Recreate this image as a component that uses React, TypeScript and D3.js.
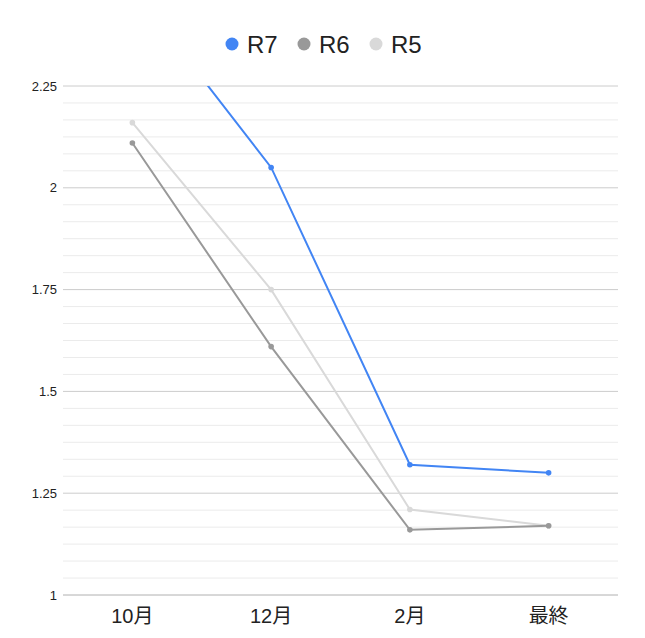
import React from "react";
import * as d3 from "d3";

const categories = ["10月", "12月", "2月", "最終"];
const seriesNames = ["R7", "R6", "R5"];
const r7Values = [2.49, 2.05, 1.32, 1.3];
const r6Values = [2.11, 1.61, 1.16, 1.17];
const r5Values = [2.16, 1.75, 1.21, 1.17];
const yTicks = [1, 1.25, 1.5, 1.75, 2, 2.25];
const colors = ["#4285f4", "#999999", "#d9d9d9"];

const W = 645;
const H = 638;
const left = 63;
const right = 618;
const top = 86;
const bottom = 595;

export default function App() {
  const x = d3.scaleBand<string>().domain(categories).range([left, right]);
  const y = d3.scaleLinear().domain([1, 2.25]).range([bottom, top]);
  const minor: number[] = [];
  for (let k = 0; k < yTicks.length - 1; k++) {
    for (let j = 1; j < 6; j++) minor.push(yTicks[k] + ((yTicks[k + 1] - yTicks[k]) * j) / 6);
  }
  const series = [r7Values, r6Values, r5Values];
  const line = d3
    .line<number>()
    .x((_, i) => (x(categories[i]) as number) + x.bandwidth() / 2)
    .y((d) => y(d));
  const font = "'Liberation Sans', Arial, 'Noto Sans CJK JP', sans-serif";
  const legendX = [232, 304, 376];

  return (
    <svg
      width={W}
      height={H}
      style={{ position: "absolute", left: 0, top: 0, fontFamily: font }}
    >
      <rect width={W} height={H} fill="#fff" />
      <defs>
        <clipPath id="plot">
          <rect x={left} y={top} width={right - left} height={bottom - top} />
        </clipPath>
      </defs>
      {minor.map((v, i) => (
        <line
          key={"m" + i}
          x1={left}
          x2={right}
          y1={y(v)}
          y2={y(v)}
          stroke="#ebebeb"
          strokeWidth={1}
        />
      ))}
      {yTicks.map((t) => (
        <line
          key={"g" + t}
          x1={left}
          x2={right}
          y1={y(t)}
          y2={y(t)}
          stroke={t === 1 ? "#b0b0b0" : "#cccccc"}
          strokeWidth={1}
        />
      ))}
      {yTicks.map((t) => (
        <text
          key={"t" + t}
          x={57}
          y={y(t)}
          dy="0.35em"
          textAnchor="end"
          fontSize={13}
          fill="#222"
        >
          {String(t)}
        </text>
      ))}
      {categories.map((c) => (
        <text
          key={c}
          x={(x(c) as number) + x.bandwidth() / 2}
          y={623}
          textAnchor="middle"
          fontSize={20}
          fill="#222"
        >
          {c}
        </text>
      ))}
      <g clipPath="url(#plot)">
        {series
          .map((vals, si) => ({ vals, si }))
          .reverse()
          .map(({ vals, si }) => (
            <g key={seriesNames[si]}>
              <path d={line(vals) || ""} fill="none" stroke={colors[si]} strokeWidth={2} />
              {vals.map((v, i) => (
                <circle
                  key={i}
                  cx={(x(categories[i]) as number) + x.bandwidth() / 2}
                  cy={y(v)}
                  r={2.8}
                  fill={colors[si]}
                />
              ))}
            </g>
          ))}
      </g>
      {seriesNames.map((n, i) => (
        <g key={n}>
          <circle cx={legendX[i]} cy={44} r={6.5} fill={colors[i]} />
          <text x={legendX[i] + 15} y={44} dy="0.36em" fontSize={24} fill="#222">
            {n}
          </text>
        </g>
      ))}
    </svg>
  );
}
